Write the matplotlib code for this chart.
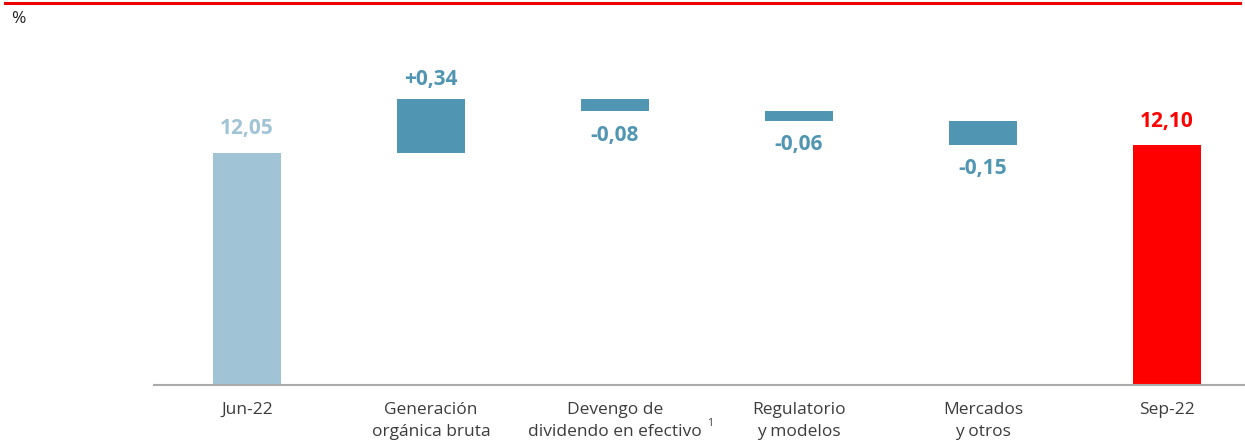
import matplotlib
matplotlib.use("Agg")
import matplotlib.pyplot as plt

categories = ["Jun-22", "Generación\norgánica bruta", "Devengo de\ndividendo en efectivo",
              "Regulatorio\ny modelos", "Mercados\ny otros", "Sep-22"]
start_value = 12.05
changes = [0.34, -0.08, -0.06, -0.15]
end_value = 12.10
value_labels = ["12,05", "+0,34", "-0,08", "-0,06", "-0,15", "12,10"]

C_START = "#a0c4d5"
C_STEP = "#5095b2"
C_END = "#ff0000"
TXT = "#3c3c3c"

plt.rcParams['font.family'] = ['Open Sans', 'DejaVu Sans']

W, H = 1245, 441
fig = plt.figure(figsize=(W / 100, H / 100), dpi=100)

base_px = 385
y0 = 10.6
k = 160.0  # px per unit
left_px = 154
ax = fig.add_axes([left_px / W, (H - base_px) / H, 1 - left_px / W, base_px / H])
ax.set_ylim(y0, y0 + base_px / k)
step = 184.0
ax.set_xlim((left_px - 247) / step, (W - 247) / step)

bw = 68 / step
VFS = 15
ax.bar(0, start_value - y0, bottom=y0, width=bw, color=C_START)
ax.annotate(value_labels[0], (0, start_value), xytext=(0, 18), textcoords="offset points",
            ha="center", va="center", fontsize=VFS, fontweight="bold", color=C_START)
level = start_value
for i, ch in enumerate(changes, start=1):
    lo = min(level, level + ch)
    ax.bar(i, abs(ch), bottom=lo, width=bw, color=C_STEP)
    off = 14 if ch > 0 else -17
    ax.annotate(value_labels[i], (i, level + ch), xytext=(0, off), textcoords="offset points",
                ha="center", va="center", fontsize=VFS, fontweight="bold", color=C_STEP)
    level += ch
ax.bar(5, end_value - y0, bottom=y0, width=bw, color=C_END)
ax.annotate(value_labels[5], (5, end_value), xytext=(0, 17), textcoords="offset points",
            ha="center", va="center", fontsize=VFS, fontweight="bold", color=C_END)

for s in ["top", "right", "left"]:
    ax.spines[s].set_visible(False)
ax.spines["bottom"].set_color("#aaaaaa")
ax.spines["bottom"].set_linewidth(1.5)
ax.set_yticks([])
ax.set_xticks(range(len(categories)))
ax.set_xticklabels(categories, fontsize=12.5, color=TXT, linespacing=1.55)
ax.tick_params(axis="x", length=0, pad=12)
ax.annotate("1", (2, y0), xytext=(66, -28), textcoords="offset points",
            ha="left", va="center", fontsize=7.5, color=TXT)

fig.add_artist(plt.Line2D([5 / W, 1240 / W], [1 - 3 / H, 1 - 3 / H], color="#ec0000", lw=2.2))
fig.text(11 / W, 1 - 19 / H, "%", fontsize=12.5, color="#222222", ha="left", va="center")

fig.savefig("out.png", dpi=100)
